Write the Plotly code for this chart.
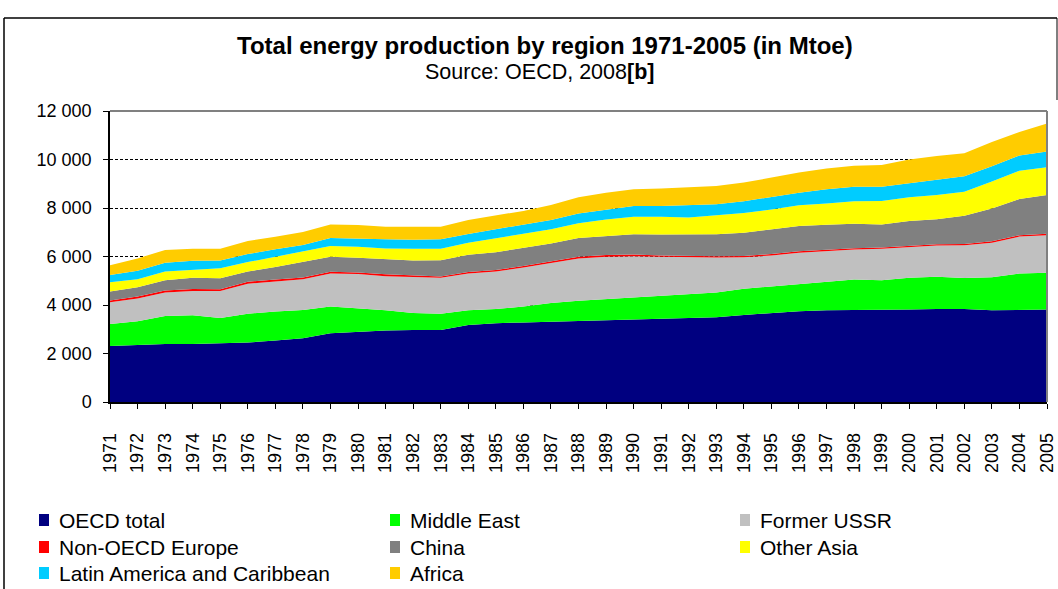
import plotly.graph_objects as go

years = list(range(1971, 2006))

oecd_total = [2310, 2365, 2390, 2390, 2420, 2450, 2540, 2630, 2840, 2900, 2950, 2970, 2970, 3180, 3250,
              3280, 3310, 3330, 3350, 3380, 3420, 3460, 3490, 3590, 3670, 3740, 3780, 3790, 3780, 3810,
              3840, 3830, 3780, 3810, 3810]
middle_east = [910, 965, 1160, 1190, 1040, 1190, 1190, 1160, 1100, 970, 830, 700, 670, 600, 580,
               660, 770, 850, 900, 920, 940, 970, 1030, 1080, 1100, 1140, 1190, 1260, 1240, 1310,
               1330, 1280, 1360, 1490, 1520]
former_ussr = [890, 940, 970, 1000, 1120, 1240, 1240, 1270, 1360, 1410, 1410, 1480, 1480, 1520, 1550,
               1610, 1660, 1740, 1740, 1710, 1630, 1530, 1440, 1300, 1270, 1270, 1260, 1240, 1300, 1260,
               1280, 1350, 1430, 1520, 1550]
non_oecd_europe = [80, 80, 80, 80, 70, 80, 80, 70, 70, 60, 80, 60, 60, 60, 60,
                   60, 70, 70, 70, 70, 50, 50, 50, 50, 60, 70, 60, 50, 50, 60,
                   60, 60, 60, 60, 60]
china = [370, 380, 420, 460, 450, 420, 520, 640, 620, 610, 610, 630, 670, 710, 740,
         750, 730, 770, 780, 840, 870, 900, 910, 960, 1020, 1040, 1020, 1010, 950, 1020,
         1030, 1160, 1350, 1490, 1600]
other_asia = [380, 330, 360, 320, 420, 390, 410, 440, 440, 450, 450, 480, 470, 500, 560,
              580, 580, 610, 690, 720, 730, 700, 780, 810, 820, 850, 880, 930, 970, 980,
              1000, 990, 1110, 1170, 1140]
latin_america = [300, 350, 360, 380, 320, 330, 320, 260, 330, 350, 380, 370, 390, 360, 380,
                 350, 390, 400, 410, 440, 440, 510, 450, 490, 520, 520, 580, 600, 590, 590,
                 630, 640, 630, 630, 650]
africa = [400, 510, 530, 500, 480, 540, 510, 540, 560, 550, 520, 530, 520, 580, 560,
          590, 610, 670, 690, 690, 720, 720, 760, 770, 800, 830, 860, 860, 890, 970,
          970, 950, 1000, 960, 1150]

series_names = ["OECD total", "Middle East", "Former USSR", "Non-OECD Europe", "China",
                "Other Asia", "Latin America and Caribbean", "Africa"]
series_values = [oecd_total, middle_east, former_ussr, non_oecd_europe, china,
                 other_asia, latin_america, africa]
series_colors = ["#000080", "#00FF00", "#C0C0C0", "#FF0000", "#808080",
                 "#FFFF00", "#00CCFF", "#FFCC00"]

y_tickvals = [0, 2000, 4000, 6000, 8000, 10000, 12000]
y_ticktext = ["0", "2 000", "4 000", "6 000", "8 000", "10 000", "12 000"]

title_text = "<b>Total energy production by region 1971-2005 (in Mtoe)</b>"
subtitle_text = "Source: OECD, 2008<b>[b]</b>"

font_family = "Liberation Sans, Arial, sans-serif"

fig = go.Figure()
for name, vals, col in zip(series_names, series_values, series_colors):
    fig.add_trace(go.Scatter(
        x=years, y=vals, name=name, mode="lines", showlegend=False,
        stackgroup="one", line=dict(width=0, color=col), fillcolor=col,
    ))

L, R, T, B = 110, 11, 111, 187
W, H = 1058, 589
pw = W - L - R
ph = H - T - B

def px_x(px):
    return (px - L) / pw

def px_y(py):
    return (H - B - py) / ph

# legend laid out in 3 columns x 3 rows like the original
legend_col_x = [44, 395, 745]
legend_row_y = [520, 547, 573]
annotations = [
    dict(text=title_text, x=px_x(545), y=px_y(46), xref="paper", yref="paper",
         showarrow=False, xanchor="center", yanchor="middle",
         font=dict(family=font_family, size=24, color="black")),
    dict(text=subtitle_text, x=px_x(539), y=px_y(72), xref="paper", yref="paper",
         showarrow=False, xanchor="center", yanchor="middle",
         font=dict(family=font_family, size=21.5, color="black")),
]
shapes = [
    dict(type="line", xref="paper", yref="paper", x0=0, x1=1, y0=1, y1=1,
         line=dict(color="#808080", width=2), layer="above"),
    dict(type="line", xref="paper", yref="paper", x0=1, x1=1, y0=0, y1=1,
         line=dict(color="#808080", width=2), layer="above"),
    dict(type="line", xref="paper", yref="paper", x0=px_x(4), x1=px_x(1057),
         y0=px_y(18), y1=px_y(18), line=dict(color="black", width=1.5)),
    dict(type="line", xref="paper", yref="paper", x0=px_x(4), x1=px_x(4),
         y0=px_y(18), y1=px_y(600), line=dict(color="black", width=1.5)),
    dict(type="line", xref="paper", yref="paper", x0=px_x(1057), x1=px_x(1057),
         y0=px_y(18), y1=px_y(100), line=dict(color="black", width=1)),
]
for i, (name, col) in enumerate(zip(series_names, series_colors)):
    cx = legend_col_x[i % 3]
    cy = legend_row_y[i // 3]
    shapes.append(dict(type="rect", xref="paper", yref="paper",
                       x0=px_x(cx - 5), x1=px_x(cx + 5), y0=px_y(cy + 6), y1=px_y(cy - 6),
                       fillcolor=col, line=dict(width=0)))
    annotations.append(dict(text=name, x=px_x(cx + 13), y=px_y(cy), xref="paper", yref="paper",
                            showarrow=False, xanchor="left", yanchor="middle",
                            font=dict(family=font_family, size=21, color="black")))

fig.update_layout(
    width=W, height=H,
    margin=dict(l=L, r=R, t=T, b=B, autoexpand=False),
    paper_bgcolor="white", plot_bgcolor="white",
    showlegend=False,
    xaxis=dict(
        range=[1971, 2005], tickmode="array", tickvals=years,
        ticktext=[str(y) for y in years], tickangle=-90,
        ticks="outside", ticklen=5, tickcolor="black",
        showline=True, linecolor="black", linewidth=1.5,
        showgrid=False, zeroline=False, ticklabeloverflow="allow",
        ticklabelstandoff=17,
        tickfont=dict(family=font_family, size=18, color="black"),
    ),
    yaxis=dict(
        range=[0, 12000], tickmode="array", tickvals=y_tickvals, ticktext=y_ticktext,
        ticks="outside", ticklen=5, tickcolor="black",
        showline=True, linecolor="black", linewidth=1.5,
        showgrid=True, gridcolor="black", gridwidth=1, griddash="3px,2px",
        zeroline=False, ticklabelstandoff=8, ticklabeloverflow="allow",
        tickfont=dict(family=font_family, size=18, color="black"),
    ),
    annotations=annotations,
    shapes=shapes,
)

fig.write_html("out.html", config={"displayModeBar": False},
               post_script="document.body.style.margin='0';")
